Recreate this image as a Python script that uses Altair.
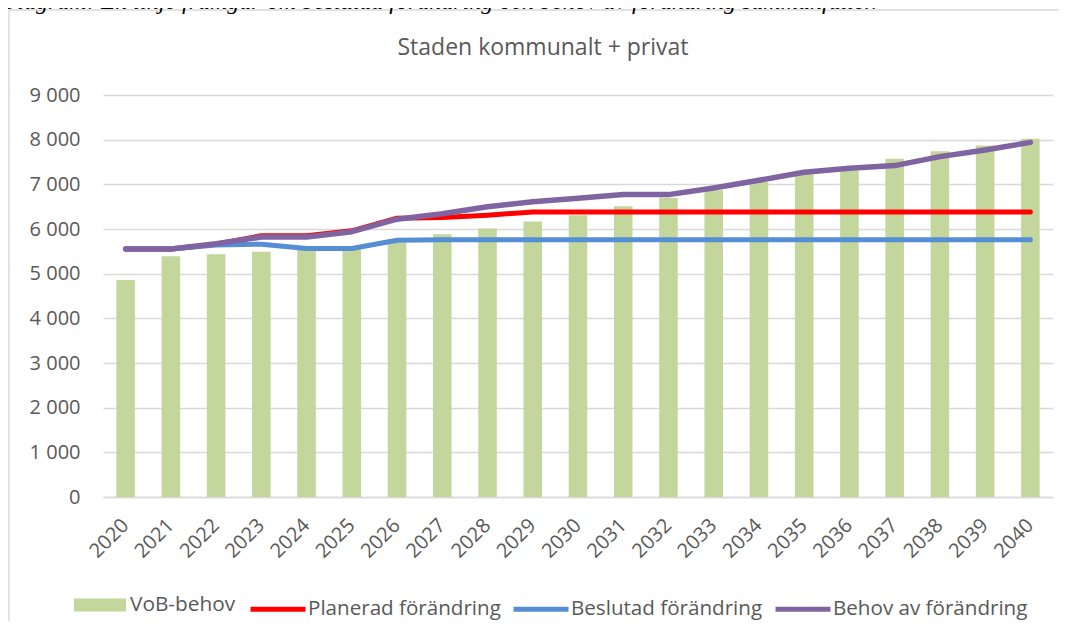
import altair as alt
import pandas as pd

years = ["2020", "2021", "2022", "2023", "2024", "2025", "2026", "2027", "2028", "2029", "2030",
         "2031", "2032", "2033", "2034", "2035", "2036", "2037", "2038", "2039", "2040"]
vob_behov = [4860, 5390, 5435, 5490, 5540, 5600, 5700, 5880, 6010, 6170, 6310,
             6510, 6700, 6870, 7050, 7240, 7310, 7570, 7740, 7870, 8020]
planerad = [5550, 5550, 5660, 5850, 5850, 5960, 6240, 6255, 6310, 6380, 6380,
            6380, 6380, 6380, 6380, 6380, 6380, 6380, 6380, 6380, 6380]
beslutad = [5550, 5550, 5640, 5660, 5562, 5562, 5747, 5760, 5760, 5760, 5760,
            5760, 5760, 5760, 5760, 5760, 5760, 5760, 5760, 5760, 5760]
behov = [5550, 5550, 5670, 5820, 5820, 5940, 6220, 6340, 6500, 6610, 6690,
         6770, 6770, 6920, 7090, 7270, 7360, 7420, 7620, 7770, 7940]

series_names = ["Planerad förändring", "Beslutad förändring", "Behov av förändring"]
series_colors = ["#ff0000", "#558ed5", "#8064a2"]
bar_name = "VoB-behov"
bar_color = "#c3d69b"
title_text = "Staden kommunalt + privat"
caption_text = "Diagram: En linje framgår om beslutad förändring och behov av förändring sammanfaller."

bars_df = pd.DataFrame({"year": years, "serie": bar_name, "value": vob_behov})
lines_df = pd.concat([
    pd.DataFrame({"year": years, "serie": series_names[0], "value": planerad}),
    pd.DataFrame({"year": years, "serie": series_names[1], "value": beslutad}),
    pd.DataFrame({"year": years, "serie": series_names[2], "value": behov}),
], ignore_index=True)

FONT = "Open Sans"
GRAY = "#595959"
GRID = "#d9d9d9"

x_enc = alt.X(
    "year:O", sort=years,
    scale=alt.Scale(paddingInner=0, paddingOuter=0),
    axis=alt.Axis(title=None, labelAngle=-45, labelAlign="right", labelBaseline="middle",
                  labelFontSize=20, labelColor=GRAY, labelFont=FONT, labelPadding=25,
                  ticks=False, domainColor=GRID, domainWidth=1.5, grid=False),
)
y_enc = alt.Y(
    "value:Q",
    scale=alt.Scale(domain=[0, 9000], nice=False, zero=True),
    axis=alt.Axis(title=None, values=[0, 1000, 2000, 3000, 4000, 5000, 6000, 7000, 8000, 9000],
                  labelExpr="replace(format(datum.value, ','), ',', ' ')",
                  labelFontSize=20, labelColor=GRAY, labelFont=FONT, labelPadding=23,
                  ticks=False, domain=False, grid=True, gridColor=GRID, gridWidth=1.5),
)

one = pd.DataFrame({"k": [0]})

border_left = alt.Chart(one).mark_rule(stroke=GRID, strokeWidth=1.5).encode(
    x=alt.value(-94), y=alt.value(-85), y2=alt.value(526)
)
border_top = alt.Chart(one).mark_rule(stroke=GRID, strokeWidth=1.5).encode(
    x=alt.value(-94), x2=alt.value(956), y=alt.value(-85)
)

caption = alt.Chart(one).mark_text(
    text=caption_text, align="left", baseline="alphabetic", font="Liberation Serif",
    fontStyle="italic", fontSize=24, color="#000000"
).encode(x=alt.value(-103), y=alt.value(-86))

title = alt.Chart(one).mark_text(
    text=title_text, align="center", baseline="alphabetic", font=FONT,
    fontSize=23, color=GRAY
).encode(x=alt.value(440), y=alt.value(-40))

bars = alt.Chart(bars_df).mark_bar(width=alt.RelativeBandSize(0.41)).encode(
    x=x_enc, y=y_enc,
    fill=alt.Fill("serie:N", scale=alt.Scale(domain=[bar_name], range=[bar_color]),
                  legend=alt.Legend(title=None, orient="none", legendX=-29, legendY=484,
                                    symbolType="M-1,-0.25H1V0.25H-1Z", symbolSize=2704,
                                    symbolStrokeWidth=0, labelFontSize=20.8, labelFont=FONT,
                                    labelColor=GRAY, labelOffset=4, padding=0, labelLimit=400)),
)

stroke_enc = alt.Stroke(
    "serie:N", scale=alt.Scale(domain=series_names, range=series_colors),
    legend=alt.Legend(title=None, orient="none", legendX=145, legendY=484, direction="horizontal",
                      symbolType="stroke", symbolSize=3025, symbolStrokeWidth=5,
                      labelFontSize=20.6, labelFont=FONT, labelColor=GRAY, labelOffset=0,
                      columnPadding=2, padding=0, labelLimit=400),
)

line_layers = []
for name, w in zip(series_names, [5, 5, 5.5]):
    line_layers.append(
        alt.Chart(lines_df).transform_filter(alt.datum.serie == name)
        .mark_line(strokeWidth=w, strokeCap="round", strokeJoin="round")
        .encode(x=x_enc, y=y_enc, stroke=stroke_enc)
    )

chart = alt.layer(border_left, border_top, bars, *line_layers, title, caption).properties(
    width=950, height=402,
    padding={"left": 95, "top": 87, "right": 6, "bottom": 124},
    autosize=alt.AutoSizeParams(type="none"),
    background="white",
).configure_view(stroke=None)

chart.save("out.html", embed_options={"renderer": "svg", "actions": False})
